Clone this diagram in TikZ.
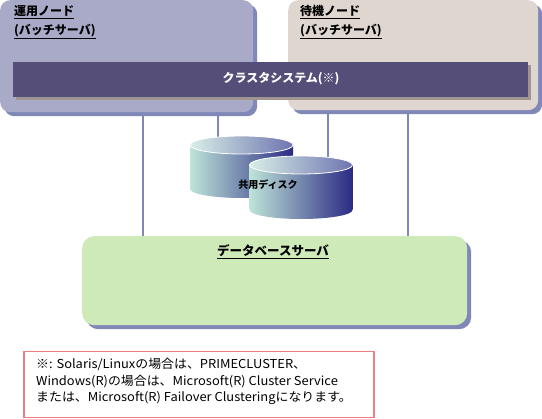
\documentclass[tikz,border=0pt]{standalone}
\usepackage{fontspec}
\setmainfont{Noto Sans CJK JP}
\newfontfamily\notefont[FakeStretch=1.05]{Noto Sans CJK JP}
\usetikzlibrary{shadows}

\definecolor{actfill}{RGB}{168,170,200}
\definecolor{stbyfill}{RGB}{224,214,208}
\definecolor{boxshadow}{RGB}{128,136,184}
\definecolor{clusfill}{RGB}{84,78,120}
\definecolor{clusshadow}{RGB}{160,150,145}
\definecolor{dbfill}{RGB}{205,234,184}
\definecolor{noteline}{RGB}{240,128,128}
\definecolor{linkblue}{RGB}{128,136,184}
\definecolor{disklight}{RGB}{190,228,216}
\definecolor{diskdark}{RGB}{44,42,132}
\definecolor{disktopr}{RGB}{110,116,176}

\tikzset{
  srvbox/.style={rounded corners=10pt, inner sep=0pt, anchor=north west,
    drop shadow={shadow xshift=4pt, shadow yshift=-4pt, fill=boxshadow, opacity=1}},
  srvlabel/.style={anchor=north west, align=left, inner sep=0pt,
    font=\bfseries\fontsize{12}{19}\selectfont},
  link/.style={draw=linkblue, line width=2pt},
  diskside/.style={left color=disklight, right color=diskdark},
  disktop/.style={left color=disklight!60!white, right color=disktopr, draw=white, line width=0.8pt},
}

\begin{document}
\begin{tikzpicture}[x=1pt,y=-1pt]
\useasboundingbox (0,0) rectangle (542,419);

% ports of the links
\coordinate (l1) at (143,0);
\coordinate (l2) at (218,0);
\coordinate (l3) at (328,0);
\coordinate (l4) at (408,0);
\coordinate (dsk1) at (241.5,145);
\coordinate (dsk2) at (301,165);

% nodes
\node[srvbox, fill=actfill, minimum width=253pt, minimum height=112pt] (act) at (0,0) {};
\node[srvbox, fill=stbyfill, minimum width=250pt, minimum height=110pt] (stby) at (288,0) {};
\node[srvlabel] (actlbl) at (14,5) {\underline{運用ノード}\\\underline{(バッチサーバ)}};
\node[srvlabel] (stbylbl) at (300,5) {\underline{待機ノード}\\\underline{(バッチサーバ)}};

\node[anchor=north west, inner sep=0pt, fill=clusfill, minimum width=515pt, minimum height=35pt,
  drop shadow={shadow xshift=3pt, shadow yshift=-3pt, fill=clusshadow, opacity=1}] (clus) at (13,62) {};
\node[text=white, font=\bfseries\fontsize{12}{14}\selectfont] (cluslbl) at (281,79) {クラスタシステム(※)};

\node[srvbox, rounded corners=12pt, fill=dbfill, minimum width=385pt, minimum height=89pt] (db) at (82,236) {};
\node[font=\bfseries\fontsize{12.5}{14}\selectfont] (dblbl) at (273,252) {\underline{データベースサーバ}};

% links
\draw[link] (act.south -| l1) -- (db.north -| l1);
\draw[link] (act.south -| l2) -- (dsk1 -| l2);
\draw[link] (stby.south -| l3) -- (dsk2 -| l3);
\draw[link] (stby.south -| l4) -- (db.north -| l4);

% shared disks
\shade[diskside] (190,145) rectangle (293,189);
\shade[diskside] (241.5,189) ellipse [x radius=51.5, y radius=9];
\shade[disktop] (dsk1) ellipse [x radius=51.5, y radius=9];
\shade[diskside] (249.5,165) rectangle (352.5,210);
\shade[diskside] (301,210) ellipse [x radius=51.5, y radius=9];
\shade[disktop] (dsk2) ellipse [x radius=51.5, y radius=9];
\node[font=\bfseries\fontsize{10}{12}\selectfont] (dsklbl) at (268,185) {共用ディスク};

% note
\node[draw=noteline, line width=1.5pt, fill=white, anchor=north west, minimum width=350pt, minimum height=66pt] (note) at (23,351) {};
\node[anchor=north west, align=left, inner sep=0pt, font=\notefont\fontsize{12.3}{16.5}\selectfont] (notetxt) at (36,358)
  {※: Solaris/Linuxの場合は、PRIMECLUSTER、\\Windows(R)の場合は、Microsoft(R) Cluster Service\\または、Microsoft(R) Failover Clusteringになります。};
\end{tikzpicture}
\end{document}
